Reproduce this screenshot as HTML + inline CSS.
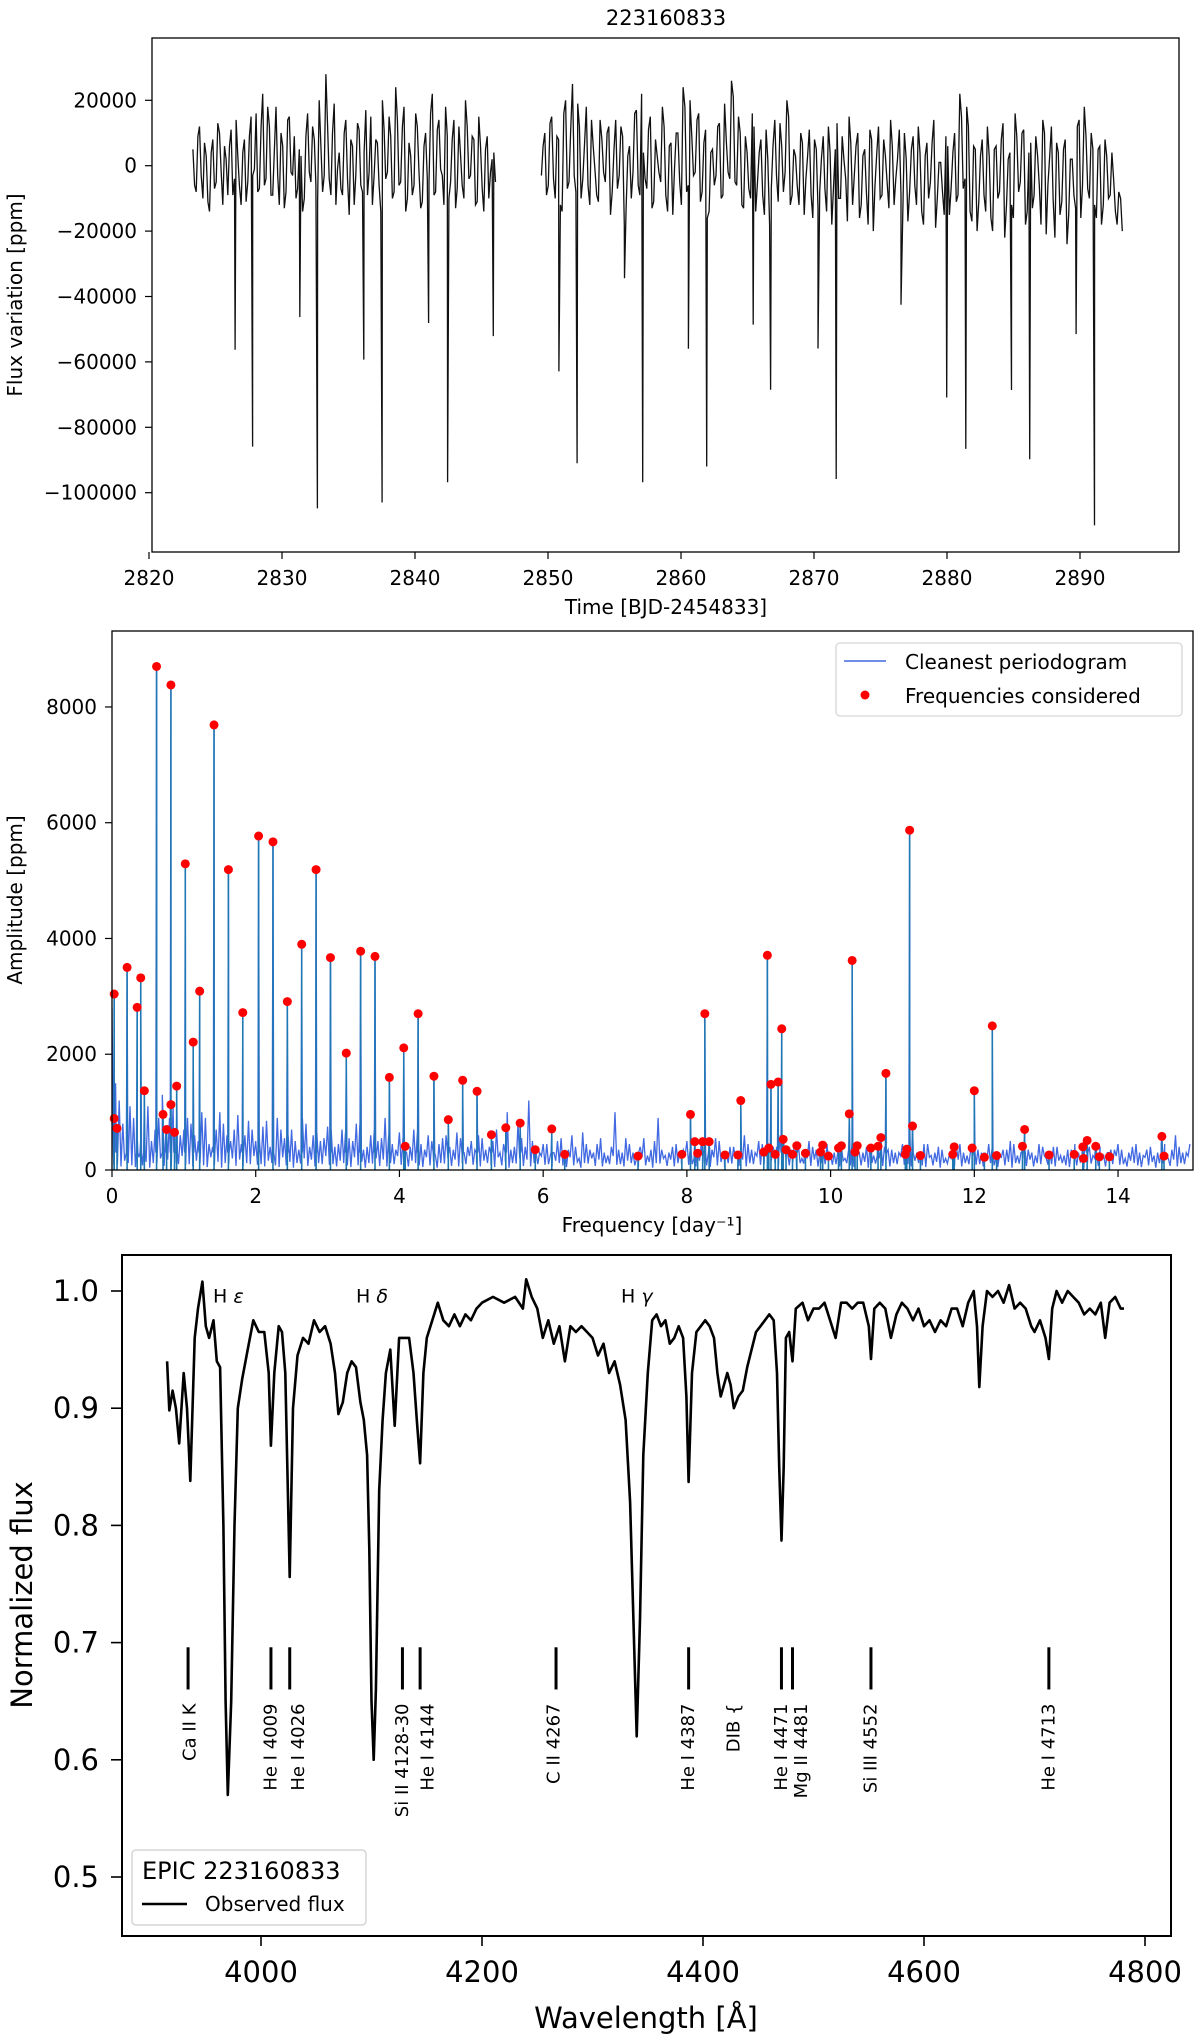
<!DOCTYPE html>
<html><head><meta charset="utf-8"><title>223160833</title>
<style>
html,body{margin:0;padding:0;background:#fff;}
svg{display:block;font-family:"DejaVu Sans","Liberation Sans",sans-serif;}
</style></head>
<body>
<svg id="fig" width="1200" height="2043" viewBox="0 0 1200 2043" xmlns="http://www.w3.org/2000/svg">
<defs>
<clipPath id="c1"><rect x="152" y="38" width="1027" height="514"/></clipPath>
<clipPath id="c2"><rect x="112" y="631" width="1081" height="539"/></clipPath>
<clipPath id="c3"><rect x="122" y="1255" width="1049" height="681"/></clipPath>
</defs>
<rect x="0" y="0" width="1200" height="2043" fill="#fff"/>
<g id="p1"></g>
<g id="p2"></g>
<g id="p3"></g>
</svg>
<script>
// ---------- Panel 1 data: light curve ----------
const lc1Start = 2823.3;
const lc1Step = 0.25;
const lc1Vals = [5,-8,12,-10,3,-14,8,-5,10,-12,2,6,-9,14,-6,4,-11,9,-3,16,-7,22,-4,12,-9,18,-12,6,-8,15,-3,-10,5,-14,9,-2,12,-6,20,-8,28,-4,10,-12,4,-9,14,-15,6,-3,11,-8,17,-2,-12,8,-6,20,-4,15,-10,24,-6,12,-14,7,-9,16,-2,-11,10,-5,22,-8,14,-3,18,-10,8,-13,12,-6,20,-4,9,-12,15,-7,5,-10,2,-5];
const lc1ValsB = [-6,9,-3,7,-11,4,-7,13,-2,6,-9,11,-4,3,-12,8,-5,15,-1,-8,12,-6,18,-9,5,-3,10,-13,14,-2,9,-7,3,-10,16,-5,8,-11,6,-3,12,-9,19,-1,-7,10,-4,8,-12,13,-6,4,-9,15,-3,7,-14,11,-2,9,-8,14,-5,18,-10,3,-6,12,-13,6,-4,16,-9,11,-1,-12,9,-5,14,-7,3,-10,12,-3,8,-11,6,-14,9,-2,4];
const lc2Start = 2849.5;
const lc2Step = 0.26;
const lc2Vals = [-3,10,-6,15,-10,8,-14,20,-5,25,-8,12,-4,18,-12,6,-9,14,-2,10,
-15,5,-7,12,-18,3,-10,16,-6,22,-4,11,-13,8,-2,18,-9,6,-15,10,
-5,24,-8,20,-3,14,-11,7,-16,4,-6,12,-10,19,-2,26,-5,15,-12,9,
-7,16,-14,4,-9,11,-18,6,-3,13,-8,20,-12,5,-6,10,-15,3,-9,8,
-13,2,-7,12,-18,5,-10,9,-4,15,-12,6,-16,3,-8,11,-20,4,-10,8,
-5,14,-12,2,-9,10,-17,5,-6,12,-14,3,-10,7,-19,1,-8,9,-15,4,
-11,22,-7,18,-14,6,-20,3,-9,12,-16,5,-10,8,-22,2,-12,16,-8,10,
-18,4,-13,9,-6,14,-21,3,-10,7,-15,5,-24,2,-9,12,-16,18,-7,10,
-12,5,-18,8,-10,4,-14,-8,-20];
const lc2ValsB = [6,-9,13,-4,9,-12,16,-7,11,-3,19,-10,7,-6,14,-1,-11,8,-5,12,
-8,14,-3,9,-13,6,-2,17,-9,4,-7,15,-11,3,-5,12,-14,7,-1,10,
-12,18,-6,9,-2,16,-8,11,-14,5,-3,13,-9,7,-4,21,-6,10,-13,4,
-10,12,-5,8,-15,2,-7,14,-11,6,-2,15,-9,3,-12,7,-4,11,-16,5,
-8,9,-14,4,-6,13,-10,2,-17,7,-3,10,-12,5,-18,8,-6,12,-9,3,
-13,6,-4,11,-16,2,-8,9,-12,4,-18,7,-5,14,-10,1,-15,6,-7,10,
-9,15,-4,12,-17,5,-11,8,-14,3,-20,6,-8,13,-12,4,-16,9,-5,11,
-14,7,-9,3,-18,10,-6,12,-22,4,-11,8,-15,2,-13,14,-6,9,-10,5,
-16,6,-12,3,-9,-4,-18,-10];
const eclTimes = [2826.47,2827.79,2831.34,2832.66,2836.15,2837.53,2841.02,2842.45,2845.89,2850.82,2852.19,2855.75,2857.12,2860.56,2861.93,2865.43,2866.74,2870.30,2871.67,2876.54,2879.98,2881.41,2884.85,2886.22,2889.71,2891.09];
const eclDepths = [-56300,-85900,-46300,-104800,-59300,-103000,-48100,-96800,-52100,-62900,-91000,-34400,-96800,-56000,-92000,-48600,-68500,-55900,-95800,-42500,-70900,-86600,-68600,-89800,-51500,-110000];
const p1XTicks = [2820,2830,2840,2850,2860,2870,2880,2890];
const p1YTicks = [20000,0,-20000,-40000,-60000,-80000,-100000];

// ---------- Panel 2 data: periodogram ----------
const pgStep = 0.1;
const pgBackground = [2800,1200,600,900,500,1100,700,1300,900,1000,700,
800,500,900,400,1000,600,700,450,850,500,
750,400,900,550,700,350,800,600,500,750,
400,700,550,800,350,600,500,900,450,650,
300,700,450,600,250,550,400,650,300,500,
600,350,500,300,1000,400,550,1200,300,450,
250,500,350,600,200,450,300,550,250,1000,
300,450,200,550,350,900,250,400,300,500,
200,450,300,550,250,400,200,600,350,500,
250,400,600,300,450,200,500,350,400,250,
450,200,500,300,400,250,550,350,300,450,
900,300,450,250,400,200,350,450,250,400,
300,450,200,350,500,250,400,300,450,200,
400,250,350,450,200,400,300,250,350,450,
200,400,300,350,250,450,200,600,300,450];
const pgBackgroundB = [1500,800,1100,600,1200,500,900,700,1100,600,
900,600,1000,450,700,800,500,950,600,700,
550,850,450,700,600,500,900,400,650,550,
700,450,650,500,800,400,700,550,600,350,
550,400,650,350,500,450,600,350,550,400,
350,550,400,700,450,350,800,400,500,300,
450,300,550,350,400,650,350,450,300,400,
350,550,300,400,250,500,350,300,450,350,
400,300,450,350,500,300,400,350,450,300,
450,300,400,500,350,450,300,400,250,450,
300,450,350,400,300,450,250,400,350,300,
400,350,300,450,300,350,250,400,300,350,
350,300,400,250,350,450,300,350,250,400,
300,400,250,350,300,450,250,400,300,350,
350,300,450,250,400,300,450,350,400,300];
const pgLow = [90,60,120,50,80,40,110,70,60,100];
const freqF = [0.03,0.03,0.07,0.21,0.35,0.40,0.45,0.62,0.71,0.76,0.82,0.82,0.87,0.90,1.02,1.13,1.22,1.42,1.62,1.82,2.04,2.24,2.44,2.64,2.84,3.04,3.26,3.46,3.66,3.86,4.06,4.08,4.26,4.48,4.68,4.88,5.08,5.28,5.48,5.68,5.89,6.12,6.30,7.32,7.93,8.05,8.11,8.15,8.22,8.25,8.31,8.53,8.71,8.75,9.07,9.12,9.14,9.17,9.23,9.27,9.32,9.34,9.38,9.47,9.53,9.65,9.86,9.89,9.97,10.11,10.15,10.26,10.30,10.34,10.37,10.56,10.66,10.70,10.77,11.04,11.06,11.10,11.14,11.25,11.70,11.72,11.97,12.00,12.14,12.25,12.31,12.67,12.70,13.04,13.39,13.51,13.52,13.57,13.69,13.74,13.88,14.61,14.64];
const freqA = [3040,890,720,3500,2810,3320,1370,8700,960,700,8380,1130,650,1450,5290,2210,3090,7690,5190,2720,5770,5670,2910,3900,5190,3670,2020,3780,3690,1600,2110,410,2700,1620,870,1550,1360,610,730,810,350,710,270,240,270,960,490,290,490,2700,490,260,260,1200,310,3710,380,1480,270,1520,2440,530,350,270,420,290,310,430,240,380,420,970,3620,310,420,380,410,560,1670,270,360,5870,760,250,270,400,380,1370,220,2490,250,410,700,260,270,400,200,510,410,230,230,580,240];
const p2XTicks = [0,2,4,6,8,10,12,14];
const p2YTicks = [0,2000,4000,6000,8000];

// ---------- Panel 3 data: spectrum ----------
const specWl = [3915,3917,3920,3923,3926,3930,3933,3936,3940,3943,3947,3950,3953,3957,3960,3963,3966,3968,3970,3973,3976,3979,3983,3988,3993,3998,4003,4007,4009,4012,4016,4019,4022,4026,4029,4033,4038,4043,4048,4053,4058,4063,4067,4070,4074,4078,4082,4086,4090,4093,4096,4098,4100,4102,4104,4107,4110,4113,4117,4121,4125,4130,4134,4138,4141,4144,4147,4150,4155,4160,4165,4170,4175,4180,4185,4190,4195,4200,4210,4220,4230,4237,4240,4245,4250,4255,4260,4265,4270,4275,4280,4285,4290,4295,4300,4305,4310,4315,4320,4325,4330,4334,4337,4340,4343,4346,4350,4354,4358,4362,4366,4370,4374,4378,4382,4385,4387,4390,4394,4398,4402,4406,4410,4413,4416,4419,4422,4425,4428,4432,4436,4440,4444,4448,4452,4456,4460,4464,4467,4469,4471,4473,4475,4478,4481,4484,4490,4495,4500,4505,4510,4515,4520,4525,4530,4535,4540,4545,4550,4552,4555,4560,4565,4570,4575,4580,4585,4590,4595,4600,4605,4610,4615,4620,4625,4630,4635,4640,4645,4648,4650,4653,4657,4662,4667,4672,4677,4682,4687,4692,4697,4700,4705,4710,4713,4716,4720,4725,4730,4735,4740,4745,4750,4755,4760,4764,4768,4773,4778,4781];
const specFlux = [0.940,0.898,0.915,0.900,0.870,0.930,0.900,0.838,0.960,0.985,1.008,0.970,0.960,0.975,0.940,0.935,0.800,0.650,0.570,0.650,0.800,0.900,0.925,0.950,0.975,0.965,0.965,0.930,0.868,0.930,0.970,0.965,0.930,0.756,0.900,0.945,0.960,0.955,0.975,0.965,0.970,0.955,0.930,0.895,0.905,0.930,0.940,0.935,0.905,0.890,0.860,0.780,0.650,0.600,0.660,0.830,0.890,0.930,0.950,0.885,0.960,0.960,0.960,0.930,0.890,0.853,0.930,0.960,0.975,0.990,0.975,0.970,0.980,0.970,0.980,0.975,0.985,0.990,0.995,0.990,0.995,0.985,1.010,0.995,0.985,0.960,0.975,0.955,0.970,0.940,0.970,0.965,0.970,0.965,0.960,0.945,0.955,0.930,0.940,0.920,0.890,0.820,0.720,0.620,0.720,0.860,0.930,0.975,0.980,0.970,0.975,0.955,0.960,0.970,0.960,0.910,0.837,0.930,0.965,0.970,0.975,0.970,0.960,0.930,0.910,0.920,0.930,0.920,0.900,0.910,0.915,0.935,0.950,0.965,0.970,0.975,0.980,0.975,0.930,0.850,0.787,0.850,0.960,0.965,0.940,0.985,0.990,0.975,0.985,0.985,0.990,0.975,0.960,0.990,0.990,0.985,0.990,0.990,0.970,0.942,0.985,0.990,0.985,0.960,0.980,0.990,0.985,0.975,0.985,0.970,0.975,0.965,0.975,0.970,0.985,0.985,0.970,0.990,1.000,0.970,0.918,0.970,1.000,0.995,1.000,0.990,1.005,0.985,0.990,0.985,0.970,0.965,0.975,0.960,0.942,0.985,1.000,0.990,1.000,0.995,0.990,0.980,0.985,0.980,0.990,0.960,0.990,0.995,0.985,0.985];
const lineNames = ["Ca II K","He I 4009","He I 4026","Si II 4128-30","He I 4144","C II 4267","He I 4387","DIB {","He I 4471","Mg II 4481","Si III 4552","He I 4713"];
const lineWl = [3934,4009,4026,4128,4144,4267,4387,4428,4471,4481,4552,4713];
const lineHasTick = [1,1,1,1,1,1,1,0,1,1,1,1];
const lineLabelDx = [2,0,9,0,8,-2,0,0,0,9,0,0];
const balmerNames = ["H ε","H δ","H γ"];
const balmerWl = [3956.6,4086,4325.8];
const p3XTicks = [4000,4200,4400,4600,4800];
const p3YTicks = [0.5,0.6,0.7,0.8,0.9,1.0];

const NS = "http://www.w3.org/2000/svg";
function el(tag, parent){ const e = document.createElementNS(NS, tag); parent.appendChild(e); return e; }
function fmtNum(v){ return v < 0 ? "\u2212" + Math.abs(v) : String(v); }

// ===== Panel 1 =====
(function(){
  const g = document.getElementById('p1');
  const X = t => 1080 + (t - 2890) * 13.3;
  const Y = v => 165.7 - v * 65.4 / 20000;
  const title = el('text', g);
  
  
  title.setAttribute('x', 666); title.setAttribute('y', 25); title.setAttribute('text-anchor', 'middle'); title.setAttribute('font-size', 21);
  title.textContent = '223160833';
  function segPath(start, step, vals, valsB, name){
    const pts = vals.map((v,i)=>[start + i*step, v*1000]);
    valsB.forEach((v,i)=>pts.push([start + (i+0.5)*step, v*1000]));
    const end = start + (vals.length-1)*step;
    eclTimes.forEach((t,i)=>{ if (t>=start && t<=end) pts.push([t, eclDepths[i]]); });
    pts.sort((a,b)=>a[0]-b[0]);
    const p = el('path', g);
    
    
    p.setAttribute('d', 'M' + pts.map(q=>X(q[0]).toFixed(1)+','+Y(q[1]).toFixed(1)).join('L'));
    p.setAttribute('fill','none'); p.setAttribute('stroke','#111'); p.setAttribute('stroke-width','1.3');
    p.setAttribute('clip-path','url(#c1)');
  }
  segPath(lc1Start, lc1Step, lc1Vals, lc1ValsB, 'light-curve-segment-1');
  segPath(lc2Start, lc2Step, lc2Vals, lc2ValsB, 'light-curve-segment-2');
  const frame = el('rect', g);
  
  
  frame.setAttribute('x',152); frame.setAttribute('y',38); frame.setAttribute('width',1027); frame.setAttribute('height',514);
  frame.setAttribute('fill','none'); frame.setAttribute('stroke','#000'); frame.setAttribute('stroke-width','1.3');
  p1XTicks.forEach(t=>{
    const l = el('line', g);
    
    
    l.setAttribute('x1',X(t)); l.setAttribute('x2',X(t)); l.setAttribute('y1',552); l.setAttribute('y2',559); l.setAttribute('stroke','#000'); l.setAttribute('stroke-width','1.2');
    const tx = el('text', g);
    
    
    tx.setAttribute('x',X(t)); tx.setAttribute('y',585); tx.setAttribute('text-anchor','middle'); tx.setAttribute('font-size',20);
    tx.textContent = t;
  });
  p1YTicks.forEach(v=>{
    const l = el('line', g);
    
    
    l.setAttribute('x1',145); l.setAttribute('x2',152); l.setAttribute('y1',Y(v)); l.setAttribute('y2',Y(v)); l.setAttribute('stroke','#000'); l.setAttribute('stroke-width','1.2');
    const tx = el('text', g);
    
    
    tx.setAttribute('x',137); tx.setAttribute('y',Y(v)+7); tx.setAttribute('text-anchor','end'); tx.setAttribute('font-size',20);
    tx.textContent = fmtNum(v);
  });
  const xl = el('text', g);
  
  
  xl.setAttribute('x',666); xl.setAttribute('y',614); xl.setAttribute('text-anchor','middle'); xl.setAttribute('font-size',20);
  xl.textContent = 'Time [BJD-2454833]';
  const yl = el('text', g);
  
  
  yl.setAttribute('transform','translate(22,295) rotate(-90)'); yl.setAttribute('text-anchor','middle'); yl.setAttribute('font-size',20);
  yl.textContent = 'Flux variation [ppm]';
})();

// ===== Panel 2 =====
(function(){
  const g = document.getElementById('p2');
  const X = f => 112 + f * 71.86;
  const Y = a => 1170 - a * 0.05788;
  const pts = pgBackground.map((a,i)=>[i*pgStep, a]);
  pgBackgroundB.forEach((a,i)=>pts.push([(i+0.5)*pgStep, a]));
  pgBackgroundB.forEach((a,i)=>pts.push([(i+0.25)*pgStep, pgLow[i % pgLow.length]]));
  pgBackgroundB.forEach((a,i)=>pts.push([(i+0.75)*pgStep, pgLow[(i+3) % pgLow.length]*2]));
  freqF.forEach((f,i)=>{ pts.push([f-0.01, 300]); pts.push([f, freqA[i]]); pts.push([f+0.01, 300]); });
  pts.sort((a,b)=>a[0]-b[0]);
  const p = el('path', g);
  
  
  p.setAttribute('d','M'+pts.map(q=>X(q[0]).toFixed(1)+','+Y(q[1]).toFixed(1)).join('L'));
  p.setAttribute('fill','none'); p.setAttribute('stroke','#4169e1'); p.setAttribute('stroke-width','1.3');
  p.setAttribute('clip-path','url(#c2)');
  freqF.forEach((f,i)=>{
    const s = el('line', g);
    
    
    s.setAttribute('x1',X(f)); s.setAttribute('x2',X(f)); s.setAttribute('y1',Y(0)); s.setAttribute('y2',Y(freqA[i]));
    s.setAttribute('stroke','#1f77b4'); s.setAttribute('stroke-width','1.6'); s.setAttribute('clip-path','url(#c2)');
  });
  freqF.forEach((f,i)=>{
    const c = el('circle', g);
    
    
    c.setAttribute('cx',X(f)); c.setAttribute('cy',Y(freqA[i])); c.setAttribute('r',4.5); c.setAttribute('fill','#f00');
  });
  const frame = el('rect', g);
  
  
  frame.setAttribute('x',112); frame.setAttribute('y',631); frame.setAttribute('width',1081); frame.setAttribute('height',539);
  frame.setAttribute('fill','none'); frame.setAttribute('stroke','#000'); frame.setAttribute('stroke-width','1.3');
  p2XTicks.forEach(t=>{
    const l = el('line', g);
    
    
    l.setAttribute('x1',X(t)); l.setAttribute('x2',X(t)); l.setAttribute('y1',1170); l.setAttribute('y2',1177); l.setAttribute('stroke','#000'); l.setAttribute('stroke-width','1.2');
    const tx = el('text', g);
    
    
    tx.setAttribute('x',X(t)); tx.setAttribute('y',1203); tx.setAttribute('text-anchor','middle'); tx.setAttribute('font-size',20);
    tx.textContent = t;
  });
  p2YTicks.forEach(v=>{
    const l = el('line', g);
    
    
    l.setAttribute('x1',105); l.setAttribute('x2',112); l.setAttribute('y1',Y(v)); l.setAttribute('y2',Y(v)); l.setAttribute('stroke','#000'); l.setAttribute('stroke-width','1.2');
    const tx = el('text', g);
    
    
    tx.setAttribute('x',97); tx.setAttribute('y',Y(v)+7); tx.setAttribute('text-anchor','end'); tx.setAttribute('font-size',20);
    tx.textContent = v;
  });
  const xl = el('text', g);
  
  
  xl.setAttribute('x',652); xl.setAttribute('y',1232); xl.setAttribute('text-anchor','middle'); xl.setAttribute('font-size',20);
  xl.textContent = 'Frequency [day\u207B\u00B9]';
  const yl = el('text', g);
  
  
  yl.setAttribute('transform','translate(22,900) rotate(-90)'); yl.setAttribute('text-anchor','middle'); yl.setAttribute('font-size',20);
  yl.textContent = 'Amplitude [ppm]';
  const lg = el('g', g);
  
  
  const box = el('rect', lg);
  
  
  box.setAttribute('x',836); box.setAttribute('y',643); box.setAttribute('width',346); box.setAttribute('height',73); box.setAttribute('rx',4);
  box.setAttribute('fill','#fff'); box.setAttribute('fill-opacity','0.85'); box.setAttribute('stroke','#d6d6d6'); box.setAttribute('stroke-width','1.3');
  const ls = el('line', lg);
  
  
  ls.setAttribute('x1',844); ls.setAttribute('x2',886); ls.setAttribute('y1',661); ls.setAttribute('y2',661); ls.setAttribute('stroke','#4169e1'); ls.setAttribute('stroke-width','1.5');
  const t1 = el('text', lg);
  
  
  t1.setAttribute('x',905); t1.setAttribute('y',669); t1.setAttribute('font-size',20);
  t1.textContent = 'Cleanest periodogram';
  const ld = el('circle', lg);
  
  
  ld.setAttribute('cx',865); ld.setAttribute('cy',695); ld.setAttribute('r',4.5); ld.setAttribute('fill','#f00');
  const t2 = el('text', lg);
  
  
  t2.setAttribute('x',905); t2.setAttribute('y',703); t2.setAttribute('font-size',20);
  t2.textContent = 'Frequencies considered';
})();

// ===== Panel 3 =====
(function(){
  const g = document.getElementById('p3');
  const X = w => 261 + (w - 4000) * 1.105;
  const Y = f => 1291 + (1.0 - f) * 1172;
  const p = el('path', g);
  
  
  p.setAttribute('d','M'+specWl.map((w,i)=>X(w).toFixed(1)+','+Y(specFlux[i]).toFixed(1)).join('L'));
  p.setAttribute('fill','none'); p.setAttribute('stroke','#000'); p.setAttribute('stroke-width','2.6'); p.setAttribute('stroke-linejoin','round');
  p.setAttribute('clip-path','url(#c3)');
  lineWl.forEach((w,i)=>{
    if (lineHasTick[i]) {
      const l = el('line', g);
      
      
      l.setAttribute('x1',X(w)); l.setAttribute('x2',X(w)); l.setAttribute('y1',Y(0.696)); l.setAttribute('y2',Y(0.660));
      l.setAttribute('stroke','#000'); l.setAttribute('stroke-width','3');
    }
    const tx = el('text', g);
    
    
    tx.setAttribute('transform','translate(' + (X(w)+lineLabelDx[i]).toFixed(1) + ',' + Y(0.648).toFixed(1) + ') rotate(-90)');
    tx.setAttribute('text-anchor','end'); tx.setAttribute('dominant-baseline','central'); tx.setAttribute('font-size',18);
    tx.textContent = lineNames[i];
  });
  balmerWl.forEach((w,i)=>{
    const tx = el('text', g);
    
    
    tx.setAttribute('x',X(w)); tx.setAttribute('y',Y(0.99)); tx.setAttribute('font-size',19);
    const parts = balmerNames[i].split(' ');
    const a = el('tspan', tx); a.textContent = parts[0] + ' ';
    const b = el('tspan', tx); b.setAttribute('font-style','italic'); b.textContent = parts[1];
  });
  const frame = el('rect', g);
  
  
  frame.setAttribute('x',122); frame.setAttribute('y',1255); frame.setAttribute('width',1049); frame.setAttribute('height',681);
  frame.setAttribute('fill','none'); frame.setAttribute('stroke','#000'); frame.setAttribute('stroke-width','2');
  p3XTicks.forEach(t=>{
    const l = el('line', g);
    
    
    l.setAttribute('x1',X(t)); l.setAttribute('x2',X(t)); l.setAttribute('y1',1936); l.setAttribute('y2',1946); l.setAttribute('stroke','#000'); l.setAttribute('stroke-width','1.6');
    const tx = el('text', g);
    
    
    tx.setAttribute('x',X(t)); tx.setAttribute('y',1982); tx.setAttribute('text-anchor','middle'); tx.setAttribute('font-size',29);
    tx.textContent = t;
  });
  p3YTicks.forEach(v=>{
    const l = el('line', g);
    
    
    l.setAttribute('x1',111); l.setAttribute('x2',122); l.setAttribute('y1',Y(v)); l.setAttribute('y2',Y(v)); l.setAttribute('stroke','#000'); l.setAttribute('stroke-width','1.6');
    const tx = el('text', g);
    
    
    tx.setAttribute('x',99); tx.setAttribute('y',Y(v)+10); tx.setAttribute('text-anchor','end'); tx.setAttribute('font-size',29);
    tx.textContent = v.toFixed(1);
  });
  const xl = el('text', g);
  
  
  xl.setAttribute('x',646); xl.setAttribute('y',2028); xl.setAttribute('text-anchor','middle'); xl.setAttribute('font-size',29);
  xl.textContent = 'Wavelength [\u00C5]';
  const yl = el('text', g);
  
  
  yl.setAttribute('transform','translate(32,1595) rotate(-90)'); yl.setAttribute('text-anchor','middle'); yl.setAttribute('font-size',29);
  yl.textContent = 'Normalized flux';
  const lg = el('g', g);
  
  
  const box = el('rect', lg);
  
  
  box.setAttribute('x',132); box.setAttribute('y',1850); box.setAttribute('width',234); box.setAttribute('height',75); box.setAttribute('rx',4);
  box.setAttribute('fill','#fff'); box.setAttribute('fill-opacity','0.85'); box.setAttribute('stroke','#d6d6d6'); box.setAttribute('stroke-width','1.5');
  const lt = el('text', lg);
  
  
  lt.setAttribute('x',142); lt.setAttribute('y',1879); lt.setAttribute('font-size',24);
  lt.textContent = 'EPIC 223160833';
  const ls = el('line', lg);
  
  
  ls.setAttribute('x1',142); ls.setAttribute('x2',187); ls.setAttribute('y1',1904); ls.setAttribute('y2',1904); ls.setAttribute('stroke','#000'); ls.setAttribute('stroke-width','2.5');
  const le = el('text', lg);
  
  
  le.setAttribute('x',205); le.setAttribute('y',1911); le.setAttribute('font-size',20);
  le.textContent = 'Observed flux';
})();
</script>
</body></html>
